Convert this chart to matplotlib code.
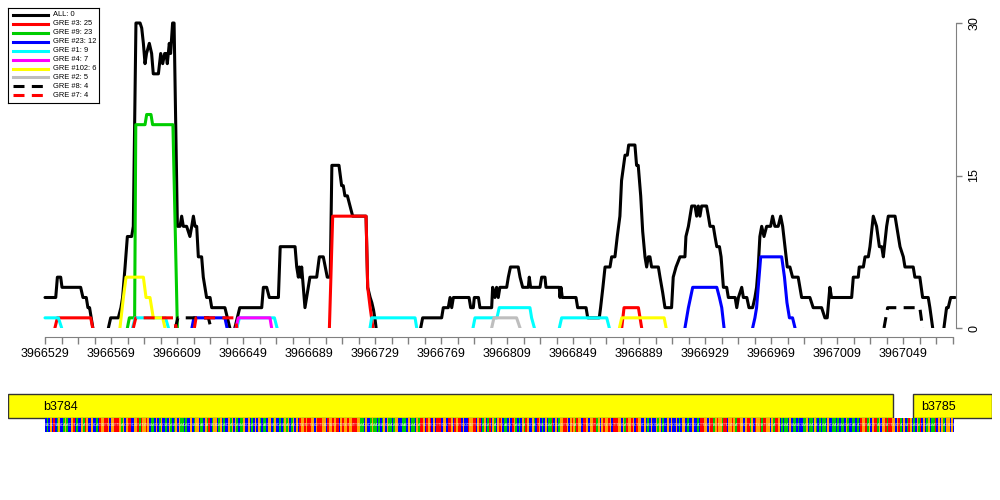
import numpy as np
import matplotlib
matplotlib.use("Agg")
import matplotlib.pyplot as plt
from matplotlib.patches import Rectangle

plt.rcParams['font.family'] = ['Liberation Sans', 'DejaVu Sans']

#Window shown on the axis (genome coordinates)
START = 3966529
END = 3967079

#Coverage tracks: (offset from START, count), one list per drawn stretch
ALL = [
    [(0, 3), (6.5, 3), (7.5, 5), (9.5, 5), (10.3, 4), (21.6, 4), (23, 3), (25, 3), (26, 2), (27, 2), (28, 1), (29, 0)],
    [(38.4, 0), (39.8, 1), (44.4, 1), (46, 2), (47, 3), (48.5, 6), (49.9, 9), (52.5, 9), (53.5, 10), (55.1, 30),
     (57.6, 30), (58.6, 29.5), (59.6, 28), (60.6, 26), (61.5, 27), (63.2, 28), (64.6, 27), (65.6, 25), (68.7, 25),
     (70.1, 27), (71.3, 26), (72.5, 27), (73.3, 27), (74.1, 26), (75.3, 28), (76.1, 27), (77.3, 30), (78.2, 30),
     (80.2, 10), (81.8, 10), (82.8, 11), (83.8, 10), (85.8, 10), (87.8, 9), (88.9, 10), (89.9, 11), (90.9, 10),
     (91.9, 10), (92.9, 7), (94.9, 7), (95.9, 5), (96.9, 4), (97.9, 3), (100, 3), (101, 2), (109, 2), (110.5, 1), (112, 0)],
    [(115, 0), (116.5, 1), (118, 2), (131.3, 2), (132.3, 4), (134.3, 4), (135.9, 3), (141.4, 3), (142.5, 8), (151.5, 8),
     (152.5, 6), (153.5, 5), (154.1, 6), (154.9, 5), (155.5, 6), (157.5, 2), (160.5, 5), (164.6, 5), (166.2, 7),
     (168.6, 7), (171, 5), (172.8, 5), (173.8, 16), (178.1, 16), (179.7, 14), (180.7, 14), (181.7, 13), (183.2, 13),
     (184.8, 12), (186.4, 11), (194.5, 11), (195.5, 4), (197, 3), (198, 2.5), (199, 1.8), (200, 0.8), (200.6, 0)],
    [(227.6, 0), (228.8, 1), (240.3, 1), (241.3, 2), (244.3, 2), (245.4, 3), (246.4, 2), (247.4, 3), (256.9, 3),
     (257.9, 2), (259.5, 2), (260.1, 3), (262.6, 3), (263.5, 2), (270.6, 2), (271.2, 4), (272.6, 3), (273.6, 4),
     (274.6, 3), (275.6, 4), (279.7, 4), (280.7, 5), (282, 6), (286.7, 6), (287.8, 5), (289.4, 4), (292.8, 4),
     (293.4, 5), (294.2, 4), (299.9, 4), (300.9, 5), (302.9, 5), (303.5, 4), (311.6, 4), (312, 3), (312.6, 4),
     (313.4, 3), (321.7, 3), (322.7, 2), (327.8, 2), (328.8, 1), (335.8, 1), (336.6, 2), (338, 4), (339.3, 6),
     (342.3, 6), (343.3, 7), (345.3, 7), (346.7, 9), (348.3, 11), (349.3, 14.5), (351.4, 17), (352.8, 17),
     (353.6, 18), (357.4, 18), (358.4, 16), (359.4, 16), (360.9, 13), (362.1, 9.5), (363.5, 7), (364.5, 6),
     (365.5, 7), (366.5, 7), (367.5, 6), (371.6, 6), (372.6, 5), (374.2, 3.5), (375.6, 2), (379.6, 2), (380.6, 5),
     (382.3, 6), (384.7, 7), (387.7, 7), (388.3, 9), (389.8, 10), (391.8, 12), (393.8, 12), (394.8, 11), (395.8, 12),
     (396.8, 11), (397.8, 12), (400.8, 12), (401.9, 11), (402.9, 10), (404.9, 10), (405.9, 9), (407, 8), (408.6, 8),
     (409.6, 7), (411, 4), (413, 4), (414, 3), (418.1, 3), (419.1, 2), (420.1, 3), (422.1, 4), (423.1, 3), (425.2, 3),
     (426.5, 2), (428.7, 2), (430.1, 3), (431.1, 4), (432.1, 6), (433.1, 9), (434.2, 10), (435.6, 9), (437.2, 10),
     (439.6, 10), (440.8, 11), (442.2, 10), (444.2, 10), (445.7, 11), (446.9, 10), (448.3, 8), (449.7, 6), (451.3, 6),
     (452.9, 5), (456.3, 5), (458.4, 3), (463.4, 3), (465.4, 2), (470.5, 2), (472.5, 1), (473.9, 1), (475.5, 4),
     (476.5, 3), (488.7, 3), (489.7, 5), (492.7, 5), (493.3, 6), (495.8, 6), (496.8, 7), (498.8, 7), (499.8, 8),
     (501.8, 11), (503.8, 10), (505.5, 8), (506.9, 8), (507.9, 7), (509.9, 10), (510.9, 11), (515, 11), (516, 10),
     (518, 8), (520, 7), (521, 6), (526, 6), (527, 5), (530, 5), (531.7, 3), (535.1, 3), (536.1, 2), (537.8, 0)],
    [(544.6, 0), (546.2, 2), (547.2, 2), (548.7, 3), (551.3, 3)],
]
GRE3 = [
    [(6, 0), (7.5, 1), (27.7, 1), (28.9, 0)],
    [(172.3, 0), (174.3, 11), (194.5, 11), (195.5, 4), (197, 2), (198.7, 0)],
    [(349.4, 0), (350.8, 2), (359.5, 2), (361.5, 0)],
]
GRE9 = [
    [(49.9, 0), (51.1, 1), (54.3, 1), (55, 20), (60.6, 20), (61.6, 21), (64.2, 21), (65.2, 20), (77.5, 20), (80.2, 0)],
]
GRE23 = [
    [(89, 0), (90.2, 1), (109, 1), (110.3, 0)],
    [(387.7, 0), (389.8, 2), (392.4, 4), (407, 4), (408.6, 3), (410, 2), (411.4, 0)],
    [(428.7, 0), (430.1, 1), (431.1, 2), (433.6, 7), (446.3, 7), (448, 5), (449.5, 2.5), (451, 1), (452.9, 1), (454.4, 0)],
]
GRE1 = [
    [(0, 1), (8.1, 1), (10.1, 0)],
    [(53, 0), (54.6, 1), (73, 1), (74.8, 0)],
    [(116.2, 0), (117.8, 1), (139, 1), (140.6, 0)],
    [(196.9, 0), (197.9, 1), (224.2, 1), (225.2, 0)],
    [(259.3, 0), (260.5, 1), (273.8, 1), (275.2, 2), (293.8, 2), (294.8, 1), (296.5, 0)],
    [(311.6, 0), (313, 1), (340.3, 1), (341.9, 0)],
]
GRE4 = [
    [(115.7, 0), (117.1, 1), (136.3, 1), (137.3, 0)],
]
GRE102 = [
    [(45.4, 0), (47.5, 3), (49.1, 5), (59.6, 5), (61.2, 3), (63.6, 3), (65.6, 1), (71.3, 1), (72.7, 0)],
    [(348, 0), (349.4, 1), (375.1, 1), (376.3, 0)],
]
GRE2 = [
    [(270.6, 0), (272, 1), (285.7, 1), (287.8, 0)],
]
GRE8 = [
    [(79, 0), (80.5, 1), (99, 1), (100.5, 0)],
    [(508.3, 0), (510.5, 2), (530, 2), (531.7, 0)],
]
GRE7 = [
    [(53.5, 0), (55, 1), (78, 1), (79.5, 0)],
    [(90.5, 0), (91.5, 1), (115, 1), (116.3, 0)],
]

TRACKS = [ALL, GRE3, GRE9, GRE23, GRE1, GRE4, GRE102, GRE2, GRE8, GRE7]
LABELS = ["ALL: 0", "GRE #3: 25", "GRE #9: 23", "GRE #23: 12", "GRE #1: 9", "GRE #4: 7",
          "GRE #102: 6", "GRE #2: 5", "GRE #8: 4", "GRE #7: 4"]
COLORS = ["black", "#FF0000", "#00CD00", "#0000FF", "#00FFFF", "#FF00FF", "#FFFF00", "#BEBEBE", "black", "#FF0000"]
DASHED = [False] * 8 + [True, True]

#Genes under the window
GENES = ["b3784", "b3785"]
GENE_START = [3966400, 3967055]
GENE_END = [3967043, 3967200]

#Sequence strip, one base per position from START (colours)
SEQ = ("CACGCTCAGCCAGACCGTCACCGATGCCGCCAC"
       "TGGTTGCGGTTTGAGCGTTCCGGTATGGTG"
       "CAACGCAGCCACGACAGCGAACACCGCAGGCAACGATCAGGCA"
       "GCACCGAGCGACAAGCCGCACGCGACAACGGCAGCCACAGAGCAGCGC"
       "TGGTGTTGGCGTTTGGCTGGTGTTCGTGGTGGTTTGG"
       "AACGCCAGAACACAGCGAACAGGCCAAACGCAACGA"
       "TTGCTGTCGCTTTCGGCTTGCTGTTCGCCTGGTTCGT"
       "CAGCATCGACGTGCAACGCTGACACGATGCCGACTGCACGCAATCGCA"
       "GGTTGCGTGATGGCTTGCGGTTAGCGTGGTGCTTTGGCGATGGTGCTGG"
       "CCGCACGCCGAGCACCGCGCCGCACGGCACCGCCAC"
       "TTGGCGTTAGTGGATTCGGTGATTGGCGTTAGCTGGTATTGGCGATTG"
       "CACAACGCAACACCAAGCAACGACACAACGCCAACACAACGACCAACAC"
       "TGGTAGCGTTAGCGGTATTGGCGT"
       "ACGCATGCACGATCGCAGCAATCGCGACGGCGC")
BASE_COLORS = {"A": "#00CD00", "C": "#0000FF", "G": "#FFA500", "T": "#FF0000"}

W, H = 1000, 500
PX_BP = 1.6506
PX_UNIT = 305 / 30.0

def box(x0, y0, x1, y1):
    return [x0 / W, 1 - y1 / H, (x1 - x0) / W, (y1 - y0) / H]

fig = plt.figure(figsize=(W / 100, H / 100), dpi=100)
xlim = (START - 37 / PX_BP, START + 947 / PX_BP)

ax = fig.add_axes(box(8, 8, 992, 328))
ax.set_xlim(*xlim)
ax.set_ylim(0, 320 / PX_UNIT)
ax.patch.set_alpha(0)

def dash_style(d):
    return (0, (3.6, 2.4)) if d else '-'

for track, col, d in zip(TRACKS, COLORS, DASHED):
    for seg in track:
        xs = [START + p[0] for p in seg]
        ys = [p[1] for p in seg]
        ax.plot(xs, ys, color=col, lw=2.2, ls=dash_style(d),
                solid_capstyle='round', solid_joinstyle='round', dash_capstyle='butt')

axis_col = '#808080'
ax.spines['top'].set_visible(False)
ax.spines['left'].set_visible(False)
ax.spines['bottom'].set_position(('outward', 6.5))
ax.spines['bottom'].set_bounds(START, END)
ax.spines['bottom'].set_color(axis_col)
ax.spines['right'].set_position(('data', START + 551.7))
ax.spines['right'].set_bounds(0, 30)
ax.spines['right'].set_color(axis_col)

xt = np.arange(START, END + 1, 10)
ax.set_xticks(xt)
ax.set_xticklabels([str(t) if (t - START) % 40 == 0 else '' for t in xt])
ax.tick_params(axis='x', length=5, width=1, color=axis_col, labelsize=9, pad=3)
ax.yaxis.tick_right()
ax.set_yticks([0, 15, 30])
ax.set_yticklabels(['0', '15', '30'], rotation=90, va='center')
ax.tick_params(axis='y', length=4.3, width=1, color=axis_col, labelsize=9, pad=5)

#Legend, drawn in pixel units inside its own box
lax = fig.add_axes(box(8, 8, 99, 103))
lax.set_xlim(8, 99)
lax.set_ylim(103, 8)
lax.set_xticks([])
lax.set_yticks([])
for s in lax.spines.values():
    s.set_linewidth(0.8)
for i, (lab, col, d) in enumerate(zip(LABELS, COLORS, DASHED)):
    y = 15 + i * 8.92
    lax.plot([13.3, 48.3], [y, y], color=col, lw=2.2, ls=dash_style(d), dash_capstyle='butt')
    lax.text(53.3, y, lab, fontsize=5.4, va='center', ha='left')

#Gene track and sequence
tax = fig.add_axes(box(8, 388, 992, 440))
tax.set_xlim(*xlim)
tax.set_ylim(440, 388)
tax.axis('off')
for name, s, e in zip(GENES, GENE_START, GENE_END):
    x0 = max(s, xlim[0])
    x1 = min(e, xlim[1])
    tax.add_patch(Rectangle((x0, 394), x1 - x0, 24, facecolor='#FFFF00', edgecolor='#333333', lw=1))
    lx = START - 1 if s < START else s + 5
    tax.text(lx, 406.5, name, fontsize=9, va='center', ha='left')

pos = START + np.arange(len(SEQ))
cols = [BASE_COLORS[b] for b in SEQ]
tax.bar(pos, 14, bottom=418, width=1, align='edge', color=cols, linewidth=0)
for p, b in zip(pos, SEQ):
    tax.text(p + 0.5, 425, b, fontsize=2.5, color='white', alpha=0.8, ha='center', va='center')

fig.savefig("out.png", dpi=100)
